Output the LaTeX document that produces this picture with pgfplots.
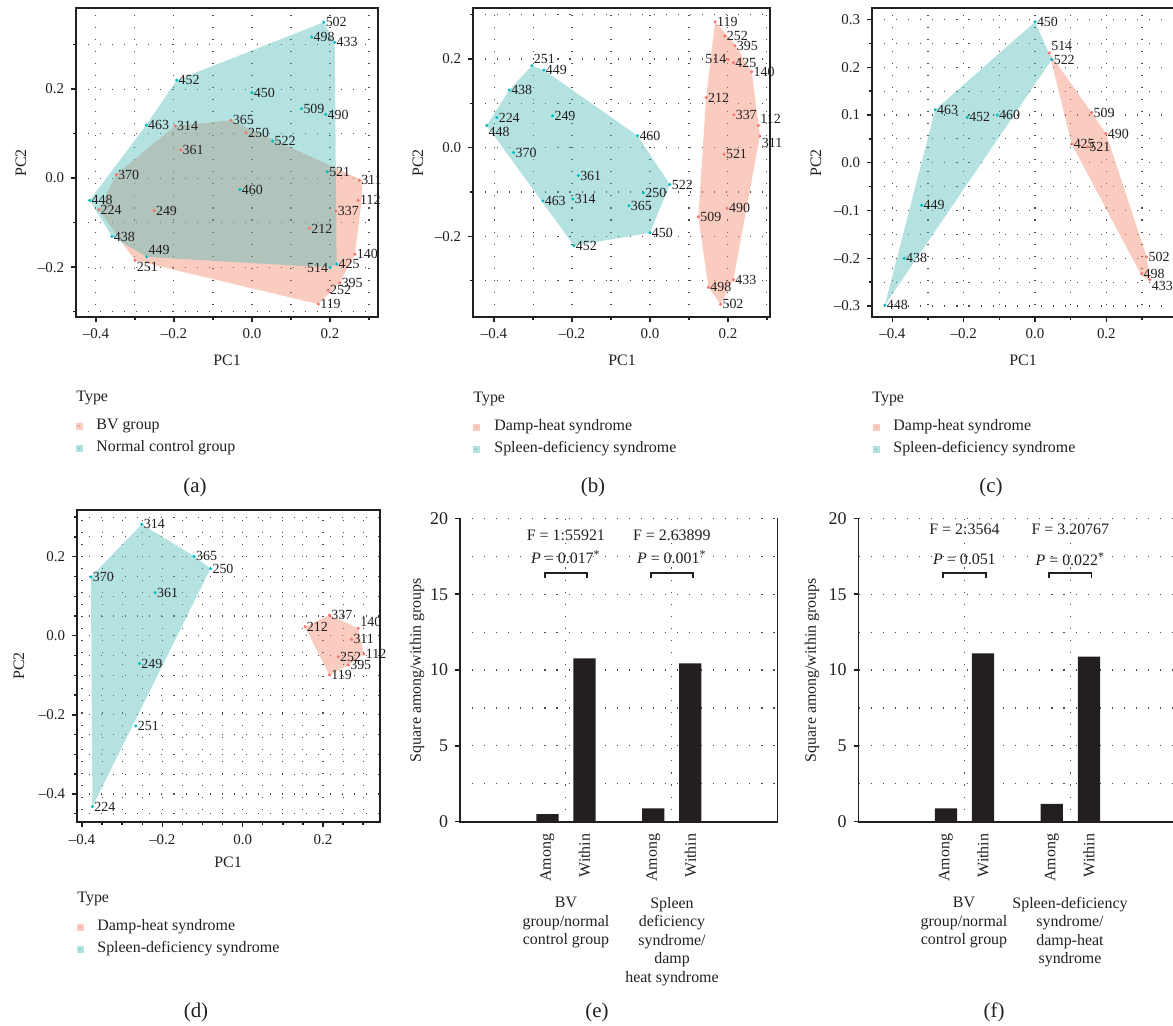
\documentclass[border=0pt]{standalone}
\usepackage{pgfplots}
\pgfplotsset{compat=1.18}
\usepackage{fontspec}
\setmainfont{Liberation Serif}

\definecolor{hred}{HTML}{F8766D}
\definecolor{hcyan}{HTML}{00BFC4}
\definecolor{hredfill}{RGB}{242,128,98}
\definecolor{hcyanfill}{RGB}{68,183,178}
\definecolor{ink}{HTML}{231F20}
\newcommand{\fs}[1]{\fontsize{#1}{#1}\selectfont}
\newcommand{\key}[3]{\fill[#3fill, fill opacity=0.4] ({#1-3.5},{#2-3.5}) rectangle ({#1+3.5},{#2+3.5});
  \fill[#3, fill opacity=0.6] (#1,#2) circle (0.5pt);}

\tikzset{gridline/.style={black!70, line width=0.55pt, dash pattern=on 0.55pt off 5.5pt}}

\pgfplotsset{
  pca/.style={
    scale only axis, anchor=south west, clip=false,
    axis line style={ink, line width=0.7pt},
    tick style={ink, line width=0.7pt},
    tick align=outside, tick pos=left,
    major tick length=2.5pt, minor tick length=1.5pt,
    grid=both, major grid style={gridline}, minor grid style={gridline},
    ticklabel style={font=\fs{7.5}, text=ink},
    xtick={-0.4,-0.2,0,0.2},
    xticklabels={\textendash0.4,\textendash0.2,0.0,0.2},
    minor xtick={-0.3,-0.1,0.1,0.3},
  },
  hull/.style={draw=none, fill=#1fill, fill opacity=0.4},
  pts/.style={only marks, mark=*, mark size=0.55pt, color=#1, mark options={draw=none},
    nodes near coords, point meta=explicit symbolic,
    nodes near coords style={anchor=west, font=\fs{7}, text=ink, inner sep=0.8pt}},
  bars/.style={
    scale only axis, anchor=south west, clip=false,
    xmin=0, xmax=3, ymin=0, ymax=20,
    axis line style={draw=none},
    ytick={0,5,10,15,20}, minor ytick={2.5,7.5,12.5,17.5},
    xtick={0.825,1.175,1.825,2.175},
    xticklabels={Among,Within,Among,Within},
    minor xtick={1,2},
    xminorgrids=true, ymajorgrids=true, yminorgrids=true,
    major grid style={gridline}, minor grid style={gridline},
    tick align=outside, ytick pos=left, xtick pos=bottom,
    xtick style={draw=none}, ytick style={ink, line width=0.7pt},
    major tick length=2.5pt, minor tick length=0pt,
    /pgf/number format/assume math mode=true,
    yticklabel style={font=\fs{9}, text=ink},
    xticklabel style={font=\fs{8}, text=ink, rotate=90, anchor=east},
  },
}

\begin{document}
\begin{tikzpicture}[x=0.5bp, y=-0.5bp]
\path[use as bounding box] (0,0) rectangle (1173,1025);

% ---------------- (a)
\begin{axis}[pca, at={(38bp,-158.5bp)}, width=151bp, height=154.5bp,
  xmin=-0.451, xmax=0.323, ymin=-0.312, ymax=0.382,
  ytick={-0.2,0,0.2}, yticklabels={\textendash0.2,0.0,0.2},
  minor ytick={-0.3,-0.1,0.1,0.3}]
\addplot[hull=hred] coordinates {(-0.348,0.008) (-0.197,0.117) (-0.054,0.130) (0.283,-0.005)
  (0.281,-0.050) (0.264,-0.171) (0.225,-0.235) (0.170,-0.283) (-0.300,-0.185) (-0.393,-0.071)} -- cycle;
\addplot[hull=hcyan] coordinates {(0.184,0.350) (0.212,0.305) (0.217,-0.193) (0.200,-0.201)
  (-0.270,-0.177) (-0.359,-0.131) (-0.416,-0.050) (-0.271,0.119) (-0.193,0.220)} -- cycle;
\addplot[pts=hcyan] coordinates {(0.000,0.192)[450] (0.053,0.083)[522] (-0.271,0.119)[463]
  (-0.193,0.220)[452] (-0.031,-0.026)[460] (-0.359,-0.131)[438]
  (-0.416,-0.050)[448] (0.127,0.156)[509] (0.189,0.143)[490] (0.217,-0.193)[425]
  (0.193,0.014)[521] (0.184,0.350)[502] (0.153,0.317)[498] (0.212,0.305)[433]};
\addplot[pts=hcyan, nodes near coords style={anchor=east}] coordinates {(0.200,-0.201)[514]};
\addplot[pts=hcyan, nodes near coords style={anchor=south west}] coordinates {(-0.270,-0.177)[449]};
\addplot[pts=hred] coordinates {(-0.197,0.117)[314] (-0.054,0.130)[365] (-0.015,0.102)[250]
  (-0.348,0.008)[370] (-0.183,0.063)[361] (-0.251,-0.073)[249]
  (-0.393,-0.071)[224] (0.215,-0.074)[337] (0.147,-0.113)[212] (0.264,-0.171)[140]
  (0.275,-0.005)[311] (0.272,-0.050)[112] (0.195,-0.252)[252] (0.225,-0.235)[395]
  (0.170,-0.283)[119]};
\addplot[pts=hred, nodes near coords style={anchor=north west}] coordinates {(-0.300,-0.185)[251]};
\end{axis}

% ---------------- (b)
\begin{axis}[pca, at={(236.5bp,-158.5bp)}, width=148.5bp, height=154.5bp,
  xmin=-0.454, xmax=0.308, ymin=-0.382, ymax=0.315,
  ytick={-0.2,0,0.2}, yticklabels={\textendash0.2,0.0,0.2},
  minor ytick={-0.3,-0.1,0.1,0.3}]
\addplot[hull=hcyan] coordinates {(-0.303,0.185) (-0.272,0.175) (-0.032,0.027) (0.051,-0.083)
  (0.000,-0.192) (-0.195,-0.221) (-0.419,0.050) (-0.361,0.130)} -- cycle;
\addplot[hull=hred] coordinates {(0.167,0.284) (0.218,0.233) (0.261,0.171) (0.282,0.026)
  (0.214,-0.298) (0.181,-0.353) (0.150,-0.315) (0.124,-0.156) (0.144,0.113)} -- cycle;
\addplot[pts=hcyan] coordinates {(-0.272,0.175)[449] (-0.361,0.130)[438]
  (-0.393,0.068)[224] (-0.250,0.072)[249] (-0.350,-0.011)[370]
  (-0.032,0.027)[460] (-0.184,-0.063)[361] (-0.275,-0.120)[463] (-0.198,-0.116)[314]
  (0.051,-0.083)[522] (-0.017,-0.102)[250] (-0.054,-0.131)[365] (0.000,-0.192)[450]
  (-0.195,-0.221)[452]};
\addplot[pts=hcyan, nodes near coords style={anchor=south west}] coordinates {(-0.303,0.185)[251]};
\addplot[pts=hcyan, nodes near coords style={anchor=north west}] coordinates {(-0.419,0.050)[448]};
\addplot[pts=hred] coordinates {(0.167,0.284)[119] (0.192,0.252)[252] (0.218,0.230)[395]
  (0.214,0.192)[425] (0.261,0.171)[140] (0.144,0.113)[212] (0.215,0.074)[337]
  (0.190,-0.015)[521] (0.124,-0.156)[509]
  (0.198,-0.137)[490] (0.150,-0.315)[498] (0.214,-0.298)[433] (0.181,-0.353)[502]};
\addplot[pts=hred, nodes near coords style={anchor=east}] coordinates {(0.201,0.199)[514]};
\addplot[pts=hred, nodes near coords style={anchor=south west}] coordinates {(0.278,0.050)[112]};
\addplot[pts=hred, nodes near coords style={anchor=north west}] coordinates {(0.282,0.026)[311]};
\end{axis}

% ---------------- (c)
\begin{axis}[pca, at={(436bp,-158.5bp)}, width=153bp, height=154.5bp,
  xmin=-0.457, xmax=0.401, ymin=-0.323, ymax=0.324,
  ytick={-0.3,-0.2,-0.1,0,0.1,0.2,0.3},
  yticklabels={\textendash0.3,\textendash0.2,\textendash0.1,0.0,0.1,0.2,0.3},
  minor ytick={-0.25,-0.15,-0.05,0.05,0.15,0.25}]
\addplot[hull=hcyan] coordinates {(0.000,0.295) (0.047,0.216) (-0.421,-0.298) (-0.280,0.111)} -- cycle;
\addplot[hull=hred] coordinates {(0.040,0.230) (0.159,0.105) (0.199,0.061) (0.313,-0.197)
  (0.322,-0.245) (0.299,-0.237) (0.103,0.039)} -- cycle;
\addplot[pts=hcyan] coordinates {(0.000,0.295)[450] (0.047,0.216)[522] (-0.280,0.111)[463]
  (-0.190,0.095)[452] (-0.106,0.100)[460] (-0.318,-0.089)[449] (-0.367,-0.200)[438]
  (-0.421,-0.298)[448]};
\addplot[pts=hred] coordinates {(0.159,0.105)[509] (0.199,0.061)[490]
  (0.103,0.039)[425] (0.147,0.033)[521] (0.313,-0.197)[502] (0.299,-0.232)[498]};
\addplot[pts=hred, nodes near coords style={anchor=south west}] coordinates {(0.040,0.230)[514]};
\addplot[pts=hred, nodes near coords style={anchor=north west}] coordinates {(0.322,-0.245)[433]};
\end{axis}

% ---------------- (d)
\begin{axis}[pca, at={(38.5bp,-411bp)}, width=151.5bp, height=156bp,
  xmin=-0.4125, xmax=0.342, ymin=-0.471, ymax=0.318,
  minor xtick={-0.35,-0.3,-0.25,-0.15,-0.1,-0.05,0.05,0.1,0.15,0.25,0.3},
  ytick={-0.4,-0.2,0,0.2}, yticklabels={\textendash0.4,\textendash0.2,0.0,0.2},
  minor ytick={-0.45,-0.35,-0.3,-0.25,-0.15,-0.1,-0.05,0.05,0.1,0.15,0.25,0.3}]
\addplot[hull=hcyan] coordinates {(-0.251,0.282) (-0.121,0.201) (-0.080,0.170) (-0.374,-0.432)
  (-0.378,0.149)} -- cycle;
\addplot[hull=hred] coordinates {(0.216,0.052) (0.288,0.019) (0.302,-0.046) (0.263,-0.074)
  (0.216,-0.099) (0.155,0.023)} -- cycle;
\addplot[pts=hcyan] coordinates {(-0.251,0.282)[314] (-0.121,0.201)[365] (-0.080,0.170)[250]
  (-0.378,0.149)[370] (-0.218,0.109)[361] (-0.257,-0.070)[249] (-0.266,-0.228)[251]
  (-0.374,-0.432)[224]};
\addplot[pts=hred] coordinates {(0.216,0.052)[337] (0.155,0.023)[212]
  (0.271,-0.009)[311] (0.302,-0.046)[112] (0.238,-0.053)[252] (0.263,-0.074)[395]
  (0.216,-0.099)[119]};
\addplot[pts=hred, nodes near coords style={anchor=south west}] coordinates {(0.288,0.019)[140]};
\end{axis}

% ---------------- (e)
\begin{axis}[bars, at={(230bp,-410.85bp)}, width=158.85bp, height=151.7bp]
\addplot[ybar, bar width=0.21, bar shift=0pt, fill=ink, draw=none]
  coordinates {(0.825,0.51) (1.175,10.77) (1.825,0.88) (2.175,10.44)};
\draw[ink, line width=0.8pt] (rel axis cs:0,1) -- (rel axis cs:0,0) -- (rel axis cs:1,0);
\draw[ink, line width=0.5pt] (rel axis cs:1,0) -- (rel axis cs:1,1);
\node[font=\fs{8}, text=ink] at (axis cs:1,18.9) {F = 1:55921};
\node[font=\fs{8}, text=ink] at (axis cs:1,17.45) {\textit{P} = 0.017\textsuperscript{*}};
\node[font=\fs{8}, text=ink] at (axis cs:2,18.9) {F = 2.63899};
\node[font=\fs{8}, text=ink] at (axis cs:2,17.45) {\textit{P} = 0.001\textsuperscript{*}};
\draw[ink, line width=0.9pt] (axis cs:0.8,16.1) -- (axis cs:0.8,16.4) -- (axis cs:1.2,16.4) -- (axis cs:1.2,16.1);
\draw[ink, line width=0.9pt] (axis cs:1.8,16.1) -- (axis cs:1.8,16.4) -- (axis cs:2.2,16.4) -- (axis cs:2.2,16.1);
\end{axis}

% ---------------- (f)
\begin{axis}[bars, at={(429.25bp,-410.85bp)}, width=158.85bp, height=151.7bp]
\addplot[ybar, bar width=0.21, bar shift=0pt, fill=ink, draw=none]
  coordinates {(0.825,0.88) (1.175,11.1) (1.825,1.17) (2.175,10.88)};
\draw[ink, line width=0.8pt] (rel axis cs:0,1) -- (rel axis cs:0,0) -- (rel axis cs:1,0);
\draw[ink, line width=0.5pt] (rel axis cs:1,0) -- (rel axis cs:1,1);
\node[font=\fs{8}, text=ink] at (axis cs:1,19.3) {F = 2:3564};
\node[font=\fs{8}, text=ink] at (axis cs:1,17.3) {\textit{P} = 0.051};
\node[font=\fs{8}, text=ink] at (axis cs:2,19.3) {F = 3.20767};
\node[font=\fs{8}, text=ink] at (axis cs:2,17.3) {\textit{P} = 0.022\textsuperscript{*}};
\draw[ink, line width=0.9pt] (axis cs:0.8,16.1) -- (axis cs:0.8,16.4) -- (axis cs:1.2,16.4) -- (axis cs:1.2,16.1);
\draw[ink, line width=0.9pt] (axis cs:1.8,16.1) -- (axis cs:1.8,16.4) -- (axis cs:2.2,16.4) -- (axis cs:2.2,16.1);
\end{axis}

% ---------------- axis titles
\begin{scope}[font=\fs{8}, text=ink]
\node at (227,360) {PC1};
\node at (622,360) {PC1};
\node at (1023,360) {PC1};
\node at (228,862) {PC1};
\node[rotate=90] at (21,163) {PC2};
\node[rotate=90] at (418,163) {PC2};
\node[rotate=90] at (816,163) {PC2};
\node[rotate=90] at (19,666) {PC2};
\node[rotate=90] at (417,670) {Square among/within groups};
\node[rotate=90] at (812,670) {Square among/within groups};

% legends
\node[anchor=west, inner sep=0] at (76,398) {Type};
\key{79}{426}{hred} \key{79}{448}{hcyan}
\node[anchor=west, inner sep=0] at (96,426) {BV group};
\node[anchor=west, inner sep=0] at (96,448) {Normal control group};

\node[anchor=west, inner sep=0] at (473,399) {Type};
\key{476}{427}{hred} \key{476}{449}{hcyan}
\node[anchor=west, inner sep=0] at (494,427) {Damp-heat syndrome};
\node[anchor=west, inner sep=0] at (494,449) {Spleen-deficiency syndrome};

\node[anchor=west, inner sep=0] at (872,399) {Type};
\key{876}{427}{hred} \key{876}{449}{hcyan}
\node[anchor=west, inner sep=0] at (893,427) {Damp-heat syndrome};
\node[anchor=west, inner sep=0] at (893,449) {Spleen-deficiency syndrome};

\node[anchor=west, inner sep=0] at (77,899) {Type};
\key{80}{927}{hred} \key{80}{949}{hcyan}
\node[anchor=west, inner sep=0] at (97,927) {Damp-heat syndrome};
\node[anchor=west, inner sep=0] at (97,949) {Spleen-deficiency syndrome};

% group names under the bars
\begin{scope}[align=center, anchor=north, font=\fontsize{8}{9.3}\selectfont]
\node at (566,890) {BV\\group/normal\\control group};
\node at (672,890) {Spleen\\deficiency\\syndrome/\\damp\\heat syndrome};
\node at (964,890) {BV\\group/normal\\control group};
\node at (1070,890) {Spleen-deficiency\\syndrome/\\damp-heat\\syndrome};
\end{scope}
\end{scope}

% panel letters
\begin{scope}[font=\fs{10.5}, text=ink]
\node at (195,487) {(a)};
\node at (593,487) {(b)};
\node at (991,487) {(c)};
\node at (196,1012) {(d)};
\node at (597,1012) {(e)};
\node at (994,1012) {(f)};
\end{scope}
\end{tikzpicture}
\end{document}
